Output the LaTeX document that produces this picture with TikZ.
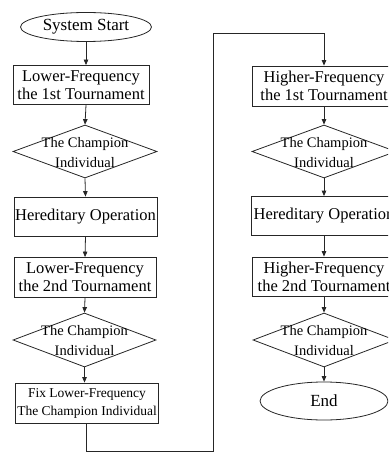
\documentclass[tikz,border=0pt]{standalone}
\usepackage{fontspec}
\setmainfont{Liberation Serif}
\usetikzlibrary{shapes.geometric,arrows.meta}
\tikzset{
  ln/.style={draw=black!85, line width=0.8pt},
  arr/.style={ln, -{Triangle[length=5.5pt,width=4.5pt]}},
  procbox/.style={ln, rectangle, inner sep=0pt, align=center, font=\fontsize{16.5}{18}\selectfont},
  smallbox/.style={ln, rectangle, inner sep=0pt, align=center, font=\fontsize{13.5}{18}\selectfont},
  termnode/.style={ln, ellipse, inner sep=0pt, font=\fontsize{17}{20}\selectfont},
  decide/.style={ln, diamond, inner sep=0pt, minimum width=144pt, minimum height=53pt,
    label={[font=\fontsize{14.5}{20}\selectfont, align=center, yshift=-1pt]center:The Champion\\Individual}}
}
\begin{document}
\begin{tikzpicture}[x=1pt,y=-1pt]
\clip (0,0) rectangle (388,454);
% left column
\node[termnode, minimum width=131pt, minimum height=29pt] (start) at (86,27) {System Start};
\node[procbox, minimum width=136pt, minimum height=39pt] (b1) at (81,85) {Lower-Frequency\\the 1st Tournament};
\node[decide] (d1) at (85,151.5) {};
\node[procbox, minimum width=143pt, minimum height=39pt] (b2) at (85.5,216.5) {Hereditary Operation};
\node[procbox, minimum width=142pt, minimum height=40pt] (b3) at (85,277.5) {Lower-Frequency\\the 2nd Tournament};
\node[decide, minimum width=143pt, minimum height=54pt] (d2) at (84.5,340) {};
\node[smallbox, minimum width=143pt, minimum height=40pt] (b4) at (87,403) {Fix Lower-Frequency\\The Champion Individual};
% right column
\node[procbox, minimum width=144pt, minimum height=40pt] (h1) at (324,86) {Higher-Frequency\\the 1st Tournament};
\node[decide] (hd1) at (324,151.5) {};
\node[procbox, minimum width=146pt, minimum height=39pt] (h2) at (324,216) {Hereditary Operation};
\node[procbox, minimum width=144pt, minimum height=39pt] (h3) at (324,276.5) {Higher-Frequency\\the 2nd Tournament};
\node[decide, minimum width=142pt, minimum height=54pt] (hd2) at (324,340) {};
\node[termnode, minimum width=128pt, minimum height=38pt] (end) at (324,401) {End};
% connectors left
\draw[arr] (start.south) -- (start.south |- b1.north);
\draw[arr] (b1.south -| start) -- (d1.north);
\draw[arr] (d1.south) -- (b2.north);
\draw[arr] (b2.south) -- (b3.north);
\draw[arr] (b3.south) -- (d2.north);
\draw[arr] (d2.south) -- (d2.south |- b4.north);
% link between columns
\coordinate (cA) at (213,451);
\coordinate (cB) at (324,33);
\draw[arr] (b4.south -| start) |- (cA) |- (cB) -- (h1.north);
% connectors right
\draw[arr] (h1.south) -- (hd1.north);
\draw[arr] (hd1.south) -- (h2.north);
\draw[arr] (h2.south) -- (h3.north);
\draw[arr] (h3.south) -- (hd2.north);
\draw[arr] (hd2.south) -- (end.north);
\end{tikzpicture}
\end{document}
